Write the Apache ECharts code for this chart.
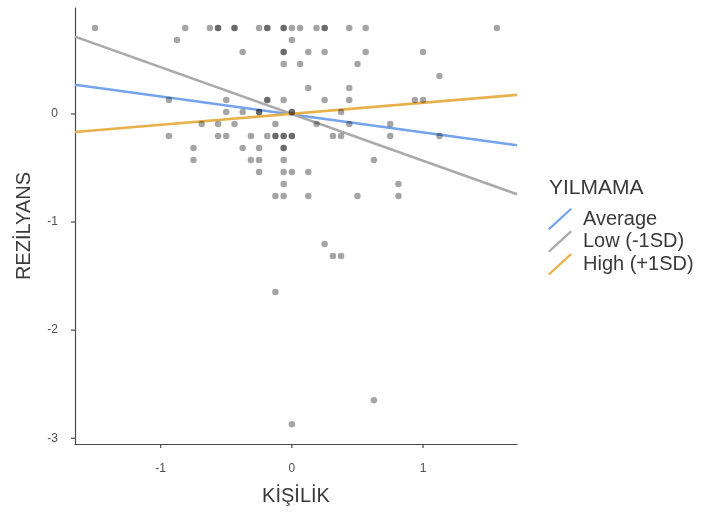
<!DOCTYPE html>
<html>
<head>
<meta charset="utf-8">
<script src="https://cdn.jsdelivr.net/npm/echarts@6/dist/echarts.min.js"></script>
<style>
  html, body { margin: 0; padding: 0; background: #fff; }
  #chart { width: 702px; height: 512px; }
</style>
</head>
<body>
<div id="chart"></div>
<script>
// scatter points (KİŞİLİK, REZİLYANS); repeated pairs are overlapping observations
const pointsX = [
  -1.5, -0.8125, -0.625, -0.5625, -0.5625, -0.4375, -0.4375, -0.25, -0.1875, -0.1875, -0.0625, -0.0625, 0, 0.0625, 0.1875, 0.25, 0.25, 0.4375, 0.5625, 1.5625,
  -0.875, 0,
  -0.375, -0.0625, -0.0625, 0.125, 0.25, 0.5625, 1.0,
  -0.0625, 0.0625, 0.5,
  1.125,
  0.125, 0.4375,
  -0.9375, -0.5, -0.1875, -0.1875, -0.0625, 0.25, 0.4375, 0.9375, 1.0,
  -0.5, -0.375, -0.25, -0.25, 0, 0, 0.375,
  -0.6875, -0.5625, -0.4375, -0.125, 0.1875, 0.4375, 0.75,
  -0.9375, -0.5625, -0.5, -0.3125, -0.1875, -0.125, -0.125, -0.0625, -0.0625, 0, 0, 0.3125, 0.375, 0.75, 1.125,
  -0.75, -0.375, -0.25, -0.0625, -0.0625,
  -0.75, -0.3125, -0.25, -0.0625, 0.625,
  -0.25, -0.0625, 0, 0.125,
  -0.0625, 0.8125,
  -0.125, -0.0625, 0.125, 0.5, 0.8125,
  0.25,
  0.3125, 0.375,
  -0.125,
  0.625,
  0
]
const pointsY = [
  0.796, 0.796, 0.796, 0.796, 0.796, 0.796, 0.796, 0.796, 0.796, 0.796, 0.796, 0.796, 0.796, 0.796, 0.796, 0.796, 0.796, 0.796, 0.796, 0.796,
  0.685, 0.685,
  0.574, 0.574, 0.574, 0.574, 0.574, 0.574, 0.574,
  0.463, 0.463, 0.463,
  0.352,
  0.241, 0.241,
  0.130, 0.130, 0.130, 0.130, 0.130, 0.130, 0.130, 0.130, 0.130,
  0.019, 0.019, 0.019, 0.019, 0.019, 0.019, 0.019,
  -0.093, -0.093, -0.093, -0.093, -0.093, -0.093, -0.093,
  -0.204, -0.204, -0.204, -0.204, -0.204, -0.204, -0.204, -0.204, -0.204, -0.204, -0.204, -0.204, -0.204, -0.204, -0.204,
  -0.315, -0.315, -0.315, -0.315, -0.315,
  -0.426, -0.426, -0.426, -0.426, -0.426,
  -0.537, -0.537, -0.537, -0.537,
  -0.648, -0.648,
  -0.759, -0.759, -0.759, -0.759, -0.759,
  -1.204,
  -1.315, -1.315,
  -1.648,
  -2.648,
  -2.870
]

// simple slopes, read at the panel edges
const lineX = [-1.653, 1.716]
const averageY = [0.27, -0.29]
const lowY = [0.715, -0.743]
const highY = [-0.167, 0.176]

const seriesNames = ['Average', 'Low (-1SD)', 'High (+1SD)']
const seriesColors = ['#73A3EC', '#A9A9A9', '#E8B04B']

const xTicks = [-1, 0, 1]
const yTicks = [-3, -2, -1, 0]

const xMin = -1.653, xMax = 1.716
const yMin = -3.053, yMax = 0.98

const chart = echarts.init(document.getElementById('chart'))

const font = 'Liberation Sans, Arial, sans-serif'
const axisColor = '#4a4a4a'
const slash = 'path://M0,20.5 L22.3,0 L24,1.5 L1.7,22 Z'

function lineSeries(name, ys, color) {
    return {
        name: name,
        type: 'line',
        data: lineX.map((x, i) => [x, ys[i]]),
        showSymbol: false,
        symbol: slash,
        lineStyle: { color: color, width: 2.6 },
        itemStyle: { color: color },
        silent: true,
        z: 2
    }
}

// small outward tick marks at the axis tick values
function tickSeries(values, isX) {
    return {
        type: 'custom',
        silent: true,
        clip: false,
        data: values.map(v => isX ? [v, yMin] : [xMin, v]),
        renderItem: (params, api) => {
            const p = api.coord([api.value(0), api.value(1)])
            const shape = isX
                ? { x1: p[0], y1: p[1], x2: p[0], y2: p[1] + 4 }
                : { x1: p[0], y1: p[1], x2: p[0] - 4, y2: p[1] }
            return { type: 'line', shape: shape, style: { stroke: axisColor, lineWidth: 1.2 } }
        },
        z: 1
    }
}

const axisCommon = {
    type: 'value',
    splitLine: { show: false },
    axisLine: { show: true, onZero: false, lineStyle: { color: axisColor, width: 1.2 } },
    axisTick: { show: false },
    axisLabel: { color: '#4d4d4d', fontSize: 12, fontFamily: font }
}

const option = {
    backgroundColor: '#fff',
    animation: false,
    grid: { left: 75, right: 185, top: 8, bottom: 68 },
    xAxis: {
        ...axisCommon,
        min: xMin,
        max: xMax,
        name: 'KİŞİLİK',
        nameLocation: 'middle',
        nameGap: 42,
        nameTextStyle: { color: '#3a3a3a', fontSize: 20, fontFamily: font },
        axisLabel: { ...axisCommon.axisLabel, margin: 19, customValues: xTicks, formatter: v => String(v) }
    },
    yAxis: {
        ...axisCommon,
        min: yMin,
        max: yMax,
        name: 'REZİLYANS',
        nameLocation: 'middle',
        nameGap: 41,
        nameRotate: 90,
        nameTextStyle: { color: '#3a3a3a', fontSize: 20, fontFamily: font },
        axisLabel: { ...axisCommon.axisLabel, margin: 17, customValues: yTicks, formatter: v => String(v) }
    },
    legend: {
        data: seriesNames,
        orient: 'vertical',
        left: 548,
        top: 208,
        padding: 0,
        itemWidth: 24,
        itemHeight: 22,
        itemGap: 0.6,
        icon: slash,
        textStyle: { color: '#3a3a3a', fontSize: 20, lineHeight: 22, fontFamily: font, padding: [0, 0, 0, 6] },
        selectedMode: false
    },
    graphic: [{
        type: 'text',
        left: 549,
        top: 178,
        style: { text: 'YILMAMA', fill: '#3a3a3a', fontSize: 21, fontFamily: font }
    }],
    series: [
        tickSeries(xTicks, true),
        tickSeries(yTicks, false),
        lineSeries(seriesNames[0], averageY, seriesColors[0]),
        lineSeries(seriesNames[1], lowY, seriesColors[1]),
        lineSeries(seriesNames[2], highY, seriesColors[2]),
        {
            name: 'points',
            type: 'scatter',
            data: pointsX.map((x, i) => [x, pointsY[i]]),
            symbolSize: 6.5,
            itemStyle: { color: 'rgba(0,0,0,0.44)' },
            silent: true,
            z: 3
        }
    ]
}

chart.setOption(option)
</script>
</body>
</html>
